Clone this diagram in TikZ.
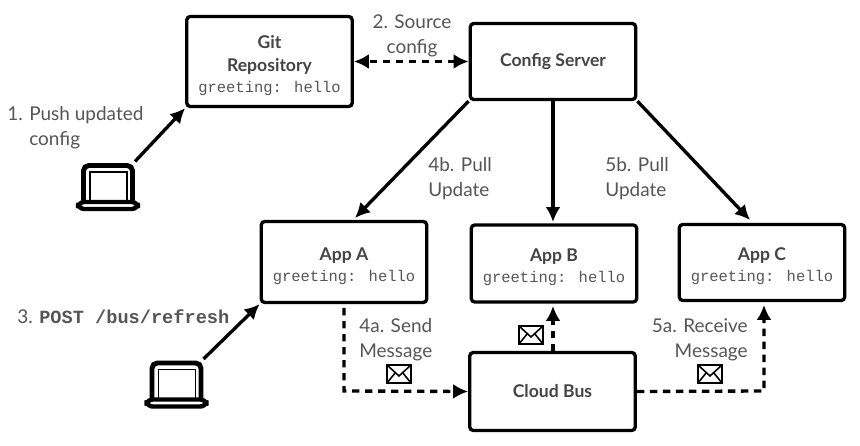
\documentclass[tikz,border=0pt]{standalone}
\usepackage{fontspec}
\setmainfont{Lato}
\newfontfamily\codefont{Liberation Mono}
\usetikzlibrary{positioning,arrows.meta}

\definecolor{labelgray}{HTML}{555555}
\definecolor{titlegray}{HTML}{444444}
\definecolor{codegray}{HTML}{555555}

\newcommand{\greet}{{\codefont\mdseries\fontsize{8.8}{13}\selectfont\color{codegray}greeting: hello}}
\newcommand{\boxtop}{\rule{0pt}{12pt}}

\tikzset{
  boxnode/.style={draw,line width=1.9pt,rounded corners=2pt,minimum width=3.31cm,align=center,
    text=titlegray,font=\bfseries\fontsize{10}{13}\selectfont},
  labelnode/.style={align=left,inner sep=0pt,text=labelgray,font=\fontsize{10.8}{14.2}\selectfont},
  solidarrow/.style={-{Latex[length=8.5pt,width=8.5pt]},line width=1.9pt},
  dasharrow/.style={-{Latex[length=8.5pt,width=8.5pt]},line width=1.9pt,dash pattern=on 4.2pt off 3.2pt},
  laptop/.pic={
    \draw[line width=2.8pt,rounded corners=3pt] (-24.5,14) -- (-24.5,-21) -- (24.5,-21) -- (24.5,14);
    \draw[line width=1pt] (-18,14) -- (-18,-14.5) -- (19,-14.5) -- (19,14);
    \draw[line width=2.5pt,rounded corners=3.5pt,fill=white] (-30,15.5) rectangle (30,22.5);
    \coordinate (-out) at (27,-25);
  },
  envelope/.pic={
    \draw[line width=1.1pt,fill=white] (-12,-9) rectangle (12,9);
    \draw[line width=.9pt] (-12,-9) -- (0,2) -- (12,-9);
    \draw[line width=.9pt] (-12,9) -- (-3.5,-1.5);
    \draw[line width=.9pt] (12,9) -- (3.5,-1.5);
  }
}

\begin{document}
\begin{tikzpicture}[x=0.02cm,y=-0.02cm]
\useasboundingbox (0,0) rectangle (860,446);

\node[boxnode,minimum height=1.8cm] (git) at (269.5,61.5) {\boxtop Git\\Repository\\[-1pt]\greet};
\node[boxnode,minimum height=1.52cm] (config) at (553,61.5) {Config Server};
\node[boxnode,minimum height=1.62cm] (appa) at (344,262) {\boxtop App A\\[-1pt]\greet};
\node[boxnode,minimum height=1.54cm] (appb) at (554,263.5) {\boxtop App B\\[-1pt]\greet};
\node[boxnode,minimum height=1.52cm] (appc) at (762,262.5) {\boxtop App C\\[-1pt]\greet};
\node[boxnode,minimum height=1.56cm] (bus) at (552.5,391.5) {Cloud Bus};

\pic (lapgit) at (108,186.5) {laptop};
\pic (lapapp) at (176.5,384) {laptop};

\coordinate (pulla) at (355,218);
\coordinate (pullc) at (750,220);
\coordinate (senda) at (344,308);
\coordinate (bendsend) at (344,391);
\coordinate (bendrecv) at (764,391);
\coordinate (recvc) at (764,305);
\coordinate (recvb) at (553,306);
\coordinate (busb) at (553,351);
\coordinate (pullb) at (553,222);
\coordinate (confb) at (553,101);

\draw[solidarrow] (lapgit-out) -- (git.south west);
\draw[solidarrow] (lapapp-out) -- (appa.south west);
\draw[dasharrow,{Latex[length=8.5pt,width=8.5pt]}-{Latex[length=8.5pt,width=8.5pt]}] (config.west) -- (git.east);
\draw[solidarrow] (config.south west) -- (pulla);
\draw[solidarrow] (confb) -- (pullb);
\draw[solidarrow] (config.south east) -- (pullc);
\draw[dasharrow] (senda) -- (bendsend) -- (bus.west);
\draw[dasharrow] (busb) -- (recvb);
\draw[dasharrow] (bus.east) -- (bendrecv) -- (recvc);

\pic at (399,374) {envelope};
\pic at (531,335) {envelope};
\pic at (710,374) {envelope};

\node[labelnode,anchor=west] (lblpush) at (7,128) {1. Push updated\\\phantom{1. }config};
\node[labelnode,align=center] (lblsource) at (412,35.5) {2. Source\\config};
\node[labelnode,anchor=west] (lblpost) at (17,317) {3. {\codefont\bfseries\fontsize{10.6}{14}\selectfont POST /bus/refresh}};
\node[labelnode,anchor=west] (lblpulla) at (428,178.5) {4b. Pull\\Update};
\node[labelnode,anchor=west] (lblpullb) at (605,178.5) {5b. Pull\\Update};
\node[labelnode,anchor=west] (lblsend) at (359,340) {4a. Send\\Message};
\node[labelnode,anchor=east,align=right] (lblrecv) at (748,340) {5a. Receive\\Message};
\end{tikzpicture}
\end{document}
